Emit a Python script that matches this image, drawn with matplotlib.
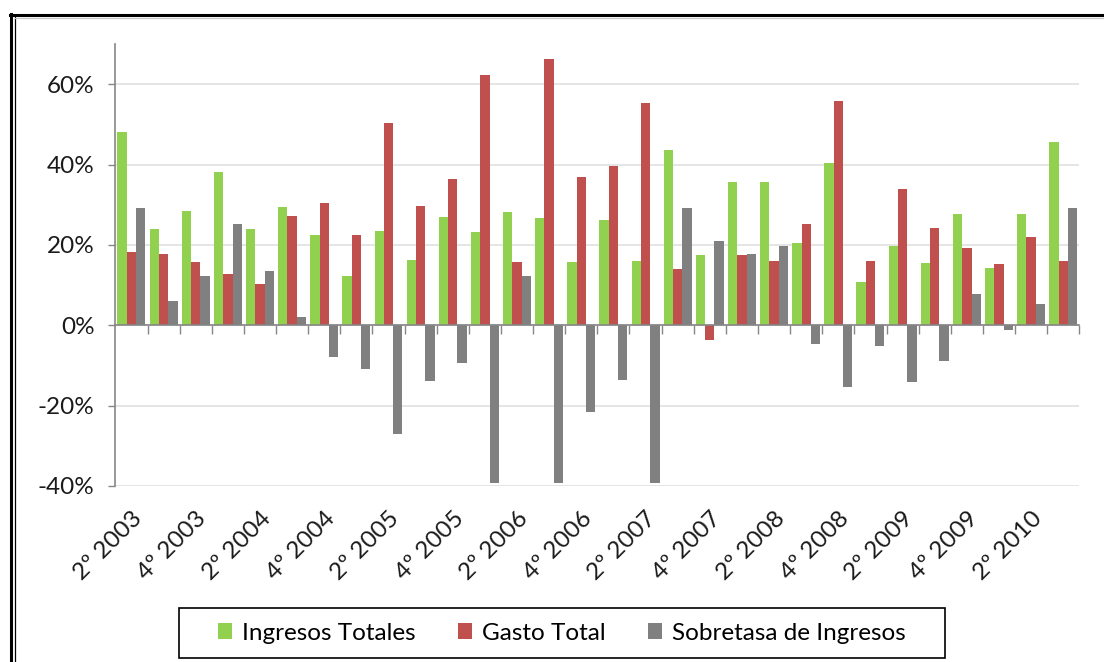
import matplotlib
matplotlib.use('Agg')
import matplotlib.pyplot as plt
import numpy as np
from matplotlib.lines import Line2D
from matplotlib.patches import Rectangle
from matplotlib.ticker import FixedLocator, FuncFormatter

plt.rcParams['font.family'] = ['Lato', 'DejaVu Sans']

quarters = ['2º 2003', '3º 2003', '4º 2003',
            '1º 2004', '2º 2004', '3º 2004', '4º 2004',
            '1º 2005', '2º 2005', '3º 2005', '4º 2005',
            '1º 2006', '2º 2006', '3º 2006', '4º 2006',
            '1º 2007', '2º 2007', '3º 2007', '4º 2007',
            '1º 2008', '2º 2008', '3º 2008', '4º 2008',
            '1º 2009', '2º 2009', '3º 2009', '4º 2009',
            '1º 2010', '2º 2010', '3º 2010']

ingresos = [48.0, 23.9, 28.4, 38.2, 23.9, 29.5, 22.5, 12.2, 23.4, 16.3,
            27.0, 23.1, 28.2, 26.8, 15.8, 26.2, 16.1, 43.5, 17.4, 35.7,
            35.7, 20.5, 40.4, 10.7, 19.7, 15.4, 27.8, 14.3, 27.8, 45.5]
gasto = [18.3, 17.8, 15.8, 12.7, 10.2, 27.3, 30.4, 22.5, 50.3, 29.8,
         36.3, 62.3, 15.8, 66.3, 36.8, 39.7, 55.3, 14.1, -3.6, 17.4,
         16.1, 25.3, 55.7, 16.1, 34.0, 24.2, 19.3, 15.2, 21.9, 16.1]
sobretasa = [29.3, 6.0, 12.2, 25.3, 13.5, 2.0, -7.8, -10.8, -27.1, -13.9,
             -9.4, -39.3, 12.2, -39.3, -21.5, -13.7, -39.3, 29.3, 20.9, 17.7,
             19.7, -4.7, -15.3, -5.2, -14.2, -8.9, 7.9, -1.3, 5.4, 29.3]

series_names = ['Ingresos Totales', 'Gasto Total', 'Sobretasa de Ingresos']
colors = ['#92D050', '#C0504D', '#808080']

FS = 17.5
W, H = 1104, 662
fig = plt.figure(figsize=(W / 100, H / 100), dpi=100)
ax = fig.add_axes([115.4 / W, 1 - 486 / H, (1079.3 - 115.4) / W, (486 - 44) / H])

x = np.arange(len(quarters))
bw = 0.29
for k, (vals, c, name) in enumerate(zip([ingresos, gasto, sobretasa], colors, series_names)):
    ax.bar(x + (k - 1) * bw, vals, width=bw, color=c, label=name, zorder=3, linewidth=0)

ax.set_xlim(-0.5, len(quarters) - 0.5)
ax.set_ylim(-40, 70)

# y axis
ax.yaxis.set_major_locator(FixedLocator([-40, -20, 0, 20, 40, 60]))
ax.yaxis.set_major_formatter(FuncFormatter(lambda v, p: f'{int(round(v))}%'))
ax.yaxis.grid(True, color='#e0e0e0', linewidth=1.2, zorder=0)
ax.tick_params(axis='y', direction='out', length=5, width=1, color='#868686',
               labelsize=FS, pad=10, labelcolor='#1a1a1a')

for s in ['top', 'right']:
    ax.spines[s].set_visible(False)
ax.spines['left'].set_color('#868686')
ax.spines['left'].set_linewidth(1.2)
ax.spines['bottom'].set_position(('data', 0))
ax.spines['bottom'].set_color('#868686')
ax.spines['bottom'].set_linewidth(1.2)
ax.spines['bottom'].set_zorder(4)

# category boundary tick marks on the zero line
ax.xaxis.set_major_locator(FixedLocator(np.arange(0.5, len(quarters), 1.0)))
ax.tick_params(axis='x', which='major', direction='out', length=6.5, width=1,
               color='#868686', labelbottom=False)

# category labels below the plot
sec = ax.secondary_xaxis('bottom')
label_pos = x[::2]
sec.set_xticks(label_pos, [quarters[i] for i in label_pos])
sec.tick_params(length=0, pad=16, labelsize=FS, labelcolor='#1a1a1a')
sec.spines['bottom'].set_visible(False)
for t in sec.get_xticklabels():
    t.set_rotation(45)
    t.set_ha('right')
    t.set_va('top')
    t.set_rotation_mode('anchor')

# legend (frame drawn separately)
leg = fig.legend(loc='center', bbox_to_anchor=(561.6 / W, 1 - 633 / H), ncol=3,
                 fontsize=FS, frameon=False,
                 handlelength=0.6, handleheight=0.6, handletextpad=0.38,
                 columnspacing=1.75, borderpad=0.0, borderaxespad=0)
fig.add_artist(Rectangle((178.6 / W, 1 - 658 / H), (944.6 - 178.6) / W, 50 / H,
                         transform=fig.transFigure, fill=False, edgecolor='black',
                         linewidth=1.2))

# outer frame lines (left and top)
fig.add_artist(Line2D([11.3 / W, 11.3 / W], [0, 1 - 14 / H], transform=fig.transFigure,
                      color='black', linewidth=2.2))
fig.add_artist(Line2D([10.2 / W, 1], [1 - 15.3 / H, 1 - 15.3 / H], transform=fig.transFigure,
                      color='black', linewidth=2.2))
fig.add_artist(Line2D([14.8 / W, 14.8 / W], [0, 1 - 17 / H], transform=fig.transFigure,
                      color='black', linewidth=0.9))
fig.add_artist(Line2D([14.8 / W, 1], [1 - 17.5 / H, 1 - 17.5 / H], transform=fig.transFigure,
                      color='#c8c8c8', linewidth=0.9))

fig.savefig('out.png', dpi=100)
